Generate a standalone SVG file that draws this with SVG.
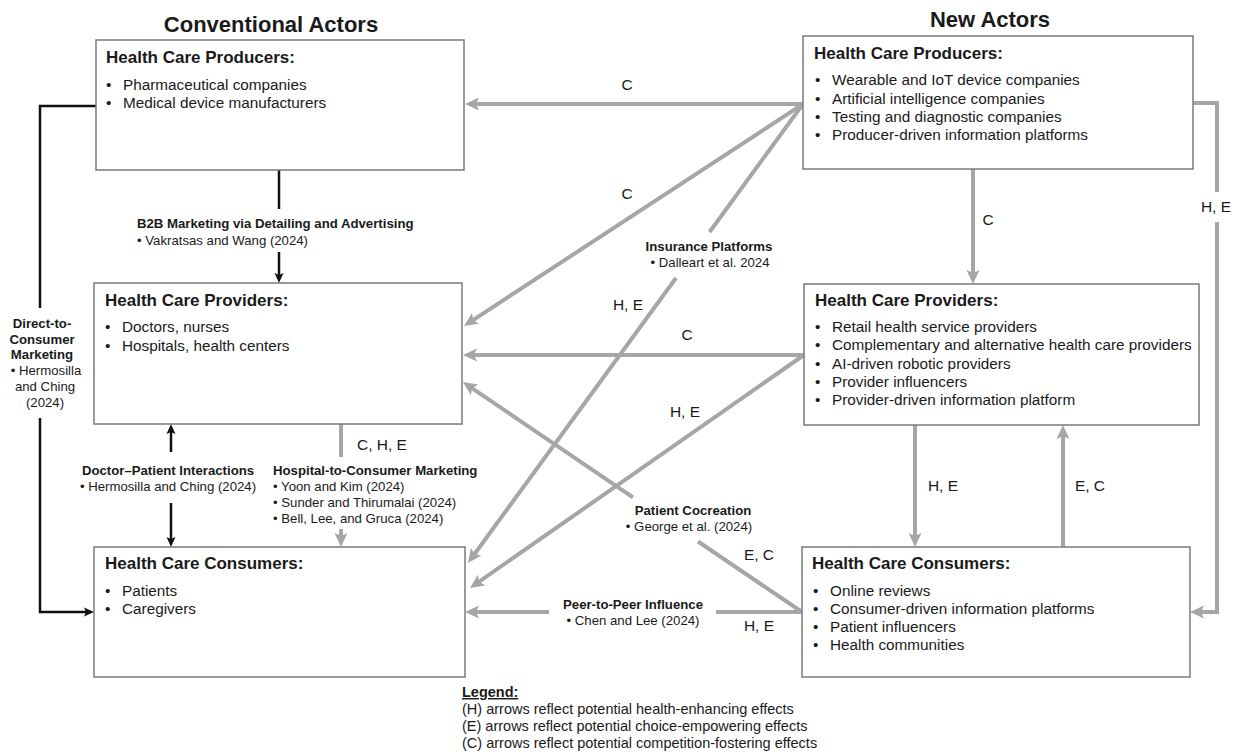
<svg xmlns="http://www.w3.org/2000/svg" width="1237" height="752" viewBox="0 0 1237 752">
<defs>
<style>
text{font-family:"Liberation Sans",Arial,sans-serif;fill:#1a1a1a}
.h1{font-size:22px;font-weight:bold;text-anchor:middle}
.bt{font-size:17px;font-weight:bold}
.it{font-size:15.3px}
.lb{font-size:13.2px;font-weight:bold}
.ci{font-size:13.2px}
.gl{font-size:15.5px}
.lg{font-size:14.5px}
.mid{text-anchor:middle}
.box{fill:#fff;stroke:#7a7a7a;stroke-width:1.5}
.g{fill:none;stroke:#a6a6a6;stroke-width:4}
.k{fill:none;stroke:#111;stroke-width:2.5}
</style>
<marker id="ag" markerUnits="userSpaceOnUse" markerWidth="14" markerHeight="14" viewBox="0 0 14 14" refX="5" refY="7" orient="auto"><path d="M0,0.5 L14,7 L0,13.5 L3,7 z" fill="#a6a6a6"/></marker>
<marker id="ak" markerUnits="userSpaceOnUse" markerWidth="10" markerHeight="10" viewBox="0 0 10 10" refX="4" refY="5" orient="auto"><path d="M0,0.5 L10,5 L0,9.5 L2,5 z" fill="#111"/></marker>
</defs>
<rect width="1237" height="752" fill="#fff"/>

<text class="h1" x="271" y="32">Conventional Actors</text>
<text class="h1" x="990" y="27">New Actors</text>

<g id="connectors">
<!-- black -->
<path class="k" d="M96,106 H40 V308"/>
<path class="k" d="M40,418 V612 H88" marker-end="url(#ak)"/>
<path class="k" d="M279,170 V209"/>
<path class="k" d="M279,252 V277" marker-end="url(#ak)"/>
<path class="k" d="M171,452 V430" marker-end="url(#ak)"/>
<path class="k" d="M171,503 V541" marker-end="url(#ak)"/>
<!-- gray -->
<path class="g" d="M803,104 H474" marker-end="url(#ag)"/>
<path class="g" d="M803,104 L471.5,321.1" marker-end="url(#ag)"/>
<path class="g" d="M803,104 L709.6,232"/>
<path class="g" d="M676,278 L473.3,555.7" marker-end="url(#ag)"/>
<path class="g" d="M804,355 H472" marker-end="url(#ag)"/>
<path class="g" d="M804,355 L477.4,582.9" marker-end="url(#ag)"/>
<path class="g" d="M802,612 L698,541.5"/>
<path class="g" d="M633,497.3 L470.4,387.1" marker-end="url(#ag)"/>
<path class="g" d="M802,612 H716"/>
<path class="g" d="M549,612 H474" marker-end="url(#ag)"/>
<path class="g" d="M973,169 V275" marker-end="url(#ag)"/>
<path class="g" d="M1193,103 H1217 V192"/>
<path class="g" d="M1217,222 V612 H1199" marker-end="url(#ag)"/>
<path class="g" d="M915,425 V538" marker-end="url(#ag)"/>
<path class="g" d="M1063,547 V434" marker-end="url(#ag)"/>
<path class="g" d="M341,424 V457"/>
<path class="g" d="M341,529 V538" marker-end="url(#ag)"/>
</g>

<g id="conv-producers">
<rect class="box" x="96" y="40" width="368" height="130"/>
<text class="bt" x="106" y="63">Health Care Producers:</text>
<text class="it" x="106" y="90">•</text><text class="it" x="123" y="90">Pharmaceutical companies</text>
<text class="it" x="106" y="108">•</text><text class="it" x="123" y="108">Medical device manufacturers</text>
</g>

<g id="conv-providers">
<rect class="box" x="94" y="283" width="368" height="141"/>
<text class="bt" x="105" y="306">Health Care Providers:</text>
<text class="it" x="105" y="332">•</text><text class="it" x="122" y="332">Doctors, nurses</text>
<text class="it" x="105" y="351">•</text><text class="it" x="122" y="351">Hospitals, health centers</text>
</g>

<g id="conv-consumers">
<rect class="box" x="94" y="547" width="371" height="130"/>
<text class="bt" x="105" y="569">Health Care Consumers:</text>
<text class="it" x="105" y="596">•</text><text class="it" x="122" y="596">Patients</text>
<text class="it" x="105" y="614">•</text><text class="it" x="122" y="614">Caregivers</text>
</g>

<g id="new-producers">
<rect class="box" x="803" y="36" width="390" height="133"/>
<text class="bt" x="814" y="59">Health Care Producers:</text>
<text class="it" x="815" y="85">•</text><text class="it" x="832" y="85">Wearable and IoT device companies</text>
<text class="it" x="815" y="104">•</text><text class="it" x="832" y="104">Artificial intelligence companies</text>
<text class="it" x="815" y="122">•</text><text class="it" x="832" y="122">Testing and diagnostic companies</text>
<text class="it" x="815" y="140">•</text><text class="it" x="832" y="140">Producer-driven information platforms</text>
</g>

<g id="new-providers">
<rect class="box" x="804" y="284" width="395" height="141"/>
<text class="bt" x="815" y="306">Health Care Providers:</text>
<text class="it" x="815" y="332">•</text><text class="it" x="832" y="332">Retail health service providers</text>
<text class="it" x="815" y="350">•</text><text class="it" x="832" y="350">Complementary and alternative health care providers</text>
<text class="it" x="815" y="369">•</text><text class="it" x="832" y="369">AI-driven robotic providers</text>
<text class="it" x="815" y="387">•</text><text class="it" x="832" y="387">Provider influencers</text>
<text class="it" x="815" y="405">•</text><text class="it" x="832" y="405">Provider-driven information platform</text>
</g>

<g id="new-consumers">
<rect class="box" x="802" y="547" width="388" height="130"/>
<text class="bt" x="812" y="569">Health Care Consumers:</text>
<text class="it" x="813" y="596">•</text><text class="it" x="830" y="596">Online reviews</text>
<text class="it" x="813" y="614">•</text><text class="it" x="830" y="614">Consumer-driven information platforms</text>
<text class="it" x="813" y="632">•</text><text class="it" x="830" y="632">Patient influencers</text>
<text class="it" x="813" y="650">•</text><text class="it" x="830" y="650">Health communities</text>
</g>

<g id="labels">
<text class="lb mid" x="42" y="328">Direct-to-</text>
<text class="lb mid" x="42" y="344">Consumer</text>
<text class="lb mid" x="42" y="359">Marketing</text>
<text class="ci mid" x="46" y="375">• Hermosilla</text>
<text class="ci mid" x="45" y="391">and Ching</text>
<text class="ci mid" x="45" y="407">(2024)</text>

<text class="lb" x="137" y="228">B2B Marketing via Detailing and Advertising</text>
<text class="ci" x="137" y="245">•  Vakratsas and Wang (2024)</text>

<text class="lb mid" x="168" y="475">Doctor–Patient Interactions</text>
<text class="ci mid" x="168" y="491">•   Hermosilla and Ching (2024)</text>

<text class="gl" x="357" y="450">C, H, E</text>
<text class="lb" x="273" y="475">Hospital-to-Consumer Marketing</text>
<text class="ci" x="273" y="491">•  Yoon and Kim (2024)</text>
<text class="ci" x="273" y="507">•  Sunder and Thirumalai (2024)</text>
<text class="ci" x="273" y="523">•  Bell, Lee, and Gruca (2024)</text>

<text class="gl mid" x="627" y="90">C</text>
<text class="gl mid" x="627" y="199">C</text>
<text class="lb mid" x="709" y="251">Insurance Platforms</text>
<text class="ci mid" x="710" y="267">•  Dalleart et al. 2024</text>
<text class="gl mid" x="628" y="310">H, E</text>
<text class="gl mid" x="687" y="340">C</text>
<text class="gl mid" x="685" y="417">H, E</text>

<text class="lb mid" x="693" y="515">Patient Cocreation</text>
<text class="ci mid" x="689" y="531">•  George et al. (2024)</text>
<text class="gl mid" x="759" y="560">E, C</text>
<text class="lb mid" x="633" y="609">Peer-to-Peer Influence</text>
<text class="ci mid" x="633" y="625">•  Chen and Lee (2024)</text>
<text class="gl mid" x="759" y="631">H, E</text>

<text class="gl mid" x="988" y="225">C</text>
<text class="gl mid" x="1216" y="212">H, E</text>
<text class="gl mid" x="943" y="491">H, E</text>
<text class="gl mid" x="1090" y="491">E, C</text>
</g>

<g id="legend">
<text class="lg" x="462" y="697" font-weight="bold" text-decoration="underline">Legend:</text>
<text class="lg" x="462" y="714">(H) arrows reflect potential health-enhancing effects</text>
<text class="lg" x="462" y="731">(E) arrows reflect potential choice-empowering effects</text>
<text class="lg" x="462" y="748">(C) arrows reflect potential competition-fostering effects</text>
</g>
</svg>
